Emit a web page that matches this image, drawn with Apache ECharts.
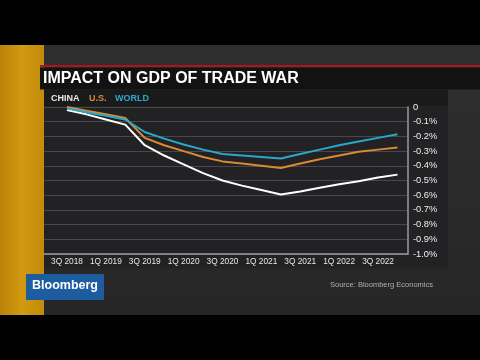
<!DOCTYPE html>
<html>
<head>
<meta charset="utf-8">
<script src="https://cdn.jsdelivr.net/npm/echarts@6/dist/echarts.min.js"></script>
<style>html,body{margin:0;padding:0;background:#000;}#c{width:480px;height:360px;}</style>
</head>
<body>
<div id="c"></div>
<script>
var quarters = ["3Q 2018","4Q 2018","1Q 2019","2Q 2019","3Q 2019","4Q 2019","1Q 2020","2Q 2020","3Q 2020","4Q 2020","1Q 2021","2Q 2021","3Q 2021","4Q 2021","1Q 2022","2Q 2022","3Q 2022","4Q 2022"];
var labelQuarters = [0,2,4,6,8,10,12,14,16];
var china = [-0.02,-0.05,-0.085,-0.12,-0.26,-0.33,-0.39,-0.45,-0.50,-0.535,-0.565,-0.595,-0.575,-0.55,-0.525,-0.505,-0.48,-0.46];
var us    = [0.00,-0.025,-0.05,-0.075,-0.21,-0.26,-0.30,-0.34,-0.37,-0.385,-0.40,-0.415,-0.385,-0.355,-0.33,-0.305,-0.29,-0.275];
var world = [-0.01,-0.035,-0.06,-0.085,-0.17,-0.215,-0.255,-0.29,-0.32,-0.33,-0.34,-0.35,-0.32,-0.29,-0.26,-0.235,-0.21,-0.185];
var yTickLabels = ["0","-0.1%","-0.2%","-0.3%","-0.4%","-0.5%","-0.6%","-0.7%","-0.8%","-0.9%","-1.0%"];

function pairs(arr){ return arr.map(function(v,i){ return [i,v]; }); }

var chart = echarts.init(document.getElementById('c'));
var font = 'Liberation Sans, Arial, sans-serif';
chart.setOption({
  backgroundColor: '#000',
  animation: false,
  graphic: [
    {type:'rect', z:-100, shape:{x:0,y:45,width:480,height:270}, style:{fill: new echarts.graphic.LinearGradient(0,0,0,1,[{offset:0,color:'#2f2f30'},{offset:1,color:'#262627'}])}},
    {type:'rect', z:-99, shape:{x:0,y:45,width:44,height:270}, style:{fill: new echarts.graphic.LinearGradient(0,0,1,0,[{offset:0,color:'#b98208'},{offset:0.5,color:'#d29a10'},{offset:1,color:'#c18a0a'}])}},
    {type:'rect', z:-98, shape:{x:40,y:65,width:440,height:2.5}, style:{fill:'#a3191f'}},
    {type:'rect', z:-98, shape:{x:40,y:67.5,width:440,height:22}, style:{fill:'#121213'}},
    {type:'rect', z:-98, shape:{x:44,y:89.5,width:404,height:17}, style:{fill:'#1a1a1b'}},
    {type:'rect', z:-98, shape:{x:44,y:106.5,width:404,height:162}, style:{fill:'#222224'}},
    {type:'text', z:10, left:43, top:71, style:{text:'IMPACT ON GDP OF TRADE WAR', fill:'#ffffff', font:'bold 16px '+font, shadowColor:'rgba(0,0,0,0.8)', shadowBlur:2, shadowOffsetX:1, shadowOffsetY:1}},
    {type:'text', z:10, left:51, top:94, style:{text:'CHINA', fill:'#e8e8e8', font:'bold 9px '+font}},
    {type:'text', z:10, left:89, top:94, style:{text:'U.S.', fill:'#d98a35', font:'bold 9px '+font}},
    {type:'text', z:10, left:115, top:94, style:{text:'WORLD', fill:'#2aa8cc', font:'bold 9px '+font}},
    {type:'rect', z:10, shape:{x:26,y:274,width:78,height:26}, style:{fill:'#1d5c9f'}},
    {type:'text', z:11, left:32, top:279.5, style:{text:'Bloomberg', fill:'#ffffff', font:'bold 12.5px '+font}},
    {type:'text', z:10, left:330, top:281, style:{text:'Source: Bloomberg Economics', fill:'#b0b0b0', font:'7.5px '+font}}
  ],
  grid: {left:44, right:72, top:107, bottom:106, containLabel:false},
  xAxis: {
    type:'value', min:-1.18, max:17.54,
    axisLine:{show:true, onZero:false, lineStyle:{color:'#9a9a9a', width:1.5}},
    axisTick:{show:false},
    splitLine:{show:false},
    axisLabel:{customValues: labelQuarters, formatter:function(v){ return quarters[Math.round(v)] || ''; }, color:'#e6e6e6', fontSize:8.3, fontFamily:font, margin:4}
  },
  yAxis: {
    type:'value', position:'right', min:-1.0, max:0, interval:0.1,
    axisLine:{show:true, onZero:false, lineStyle:{color:'#9a9a9a', width:1.5}},
    axisTick:{show:false},
    splitLine:{show:true, lineStyle:{color:'#48484a', width:1}},
    axisLabel:{formatter:function(v){ var i=Math.round(-v*10); return yTickLabels[i]; }, color:'#eeeeee', fontSize:9.3, fontFamily:font, margin:5}
  },
  series: [
    {name:'CHINA', type:'line', data:pairs(china), symbol:'none', lineStyle:{color:'#ffffff', width:2}},
    {name:'U.S.', type:'line', data:pairs(us), symbol:'none', lineStyle:{color:'#d98a35', width:2}},
    {name:'WORLD', type:'line', data:pairs(world), symbol:'none', lineStyle:{color:'#2aa8cc', width:2}}
  ]
});
</script>
</body>
</html>
